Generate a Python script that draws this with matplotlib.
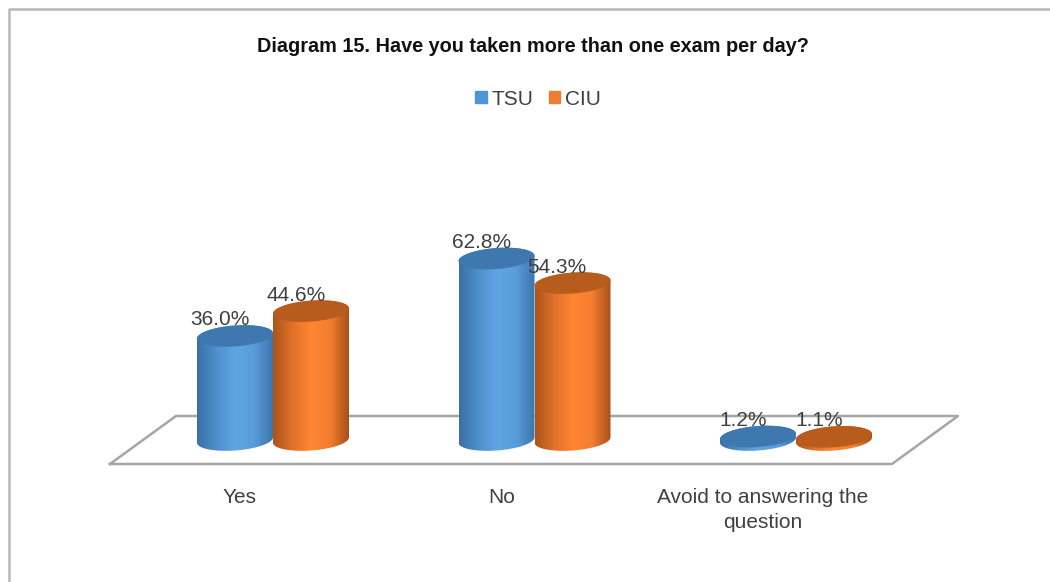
import matplotlib
matplotlib.use('Agg')
import matplotlib.pyplot as plt
import numpy as np
from matplotlib.colors import LinearSegmentedColormap
from matplotlib.lines import Line2D
from matplotlib.patches import PathPatch, Patch
from matplotlib.path import Path

plt.rcParams['font.family'] = ['Liberation Sans', 'DejaVu Sans']

categories = ['Yes', 'No', 'Avoid to answering the\nquestion']
tsu = [36.0, 62.8, 1.2]
ciu = [44.6, 54.3, 1.1]

W, H = 1050, 582
# one category = 261.5 px, one percent = 2.89 px
x_px = 261.5
y_px = 2.89
base_px = 440
floor_px = 464
x0_px = 273

blue_cmap = LinearSegmentedColormap.from_list('b', ['#3a70a6', '#4f8fcb', '#5fa5e4', '#5a9cdb', '#3d76ae'])
orange_cmap = LinearSegmentedColormap.from_list('o', ['#a9551b', '#e0712a', '#ff8533', '#f47e2f', '#a6521a'])

bar_w = 76 / x_px
semi_y = 10.5 / y_px
tilt = 0.07 * x_px / y_px

fig = plt.figure(figsize=(W / 100, H / 100), dpi=100)
# only the top and left edges of the chart frame show in the picture
fig.add_artist(Line2D([9 / W, 9 / W, 1], [0, 1 - 9 / H, 1 - 9 / H], transform=fig.transFigure,
                      color='#b8b8b8', linewidth=1.8))
ax = fig.add_axes([0, (H - floor_px) / H, 1, floor_px / H])
xlim = (-x0_px / x_px, (W - x0_px) / x_px)
ylim = (-(floor_px - base_px) / y_px, base_px / y_px)


def ellipse(xc, v):
    t = np.linspace(0, 2 * np.pi, 120)
    xs = xc + bar_w / 2 * np.cos(t)
    ys = v + semi_y * np.sin(t) + tilt * (xs - xc)
    return xs, ys


def cylinder(xc, v, cmap, top_color, z):
    t = np.linspace(0, np.pi, 60)
    xs = xc + bar_w / 2 * np.cos(t)
    top = v + semi_y * np.sin(t) + tilt * (xs - xc)
    t2 = np.linspace(np.pi, 2 * np.pi, 60)
    xb = xc + bar_w / 2 * np.cos(t2)
    bot = semi_y * np.sin(t2) + tilt * (xb - xc)
    verts = np.vstack([np.column_stack([xs, top]), np.column_stack([xb, bot]), [[xs[0], top[0]]]])
    body = PathPatch(Path(verts), facecolor='none', edgecolor='none', zorder=z)
    ax.add_patch(body)
    grad = np.linspace(0, 1, 200).reshape(1, -1)
    im = ax.imshow(grad, cmap=cmap, aspect='auto', zorder=z,
                   extent=(xc - bar_w / 2, xc + bar_w / 2, -20, v + 20))
    im.set_clip_path(body)
    ex, ey = ellipse(xc, v)
    ax.fill(ex, ey, color=top_color, zorder=z + 0.1, linewidth=0)


# floor
fx = (np.array([110, 176, 958, 892, 110]) - x0_px) / x_px
fy = (base_px - np.array([464, 416, 416, 464, 464])) / y_px
ax.plot(fx, fy, color='#a6a6a6', linewidth=1.8, zorder=1, clip_on=False)

for i in range(len(categories)):
    xb = i - bar_w / 2
    xo = i + bar_w / 2
    cylinder(xb, tsu[i], blue_cmap, '#3f78ae', 2)
    cylinder(xo, ciu[i], orange_cmap, '#b85c1e', 3)
    for xc, v in ((xb, tsu[i]), (xo, ciu[i])):
        ax.annotate('%.1f%%' % v, (xc, v), xytext=(-11, 11.5), textcoords='offset points',
                    ha='center', va='center', fontsize=15, color='#404040', zorder=5)

ax.set_xlim(xlim)
ax.set_ylim(ylim)
# category labels sit left of the bar pairs in the original
ax.set_xticks([i - 33 / x_px for i in range(len(categories))])
ax.set_xticklabels(categories, fontsize=15, color='#404040', linespacing=1.45)
ax.set_yticks([])
ax.tick_params(axis='x', length=0, pad=17)
for s in ax.spines.values():
    s.set_visible(False)
ax.patch.set_visible(False)

fig.text(533 / W, 1 - 46 / H, 'Diagram 15. Have you taken more than one exam per day?',
         ha='center', va='center', fontsize=14.3, fontweight='bold', color='#111111')
fig.legend(handles=[Patch(color='#4f94d6', label='TSU'), Patch(color='#ed7d31', label='CIU')],
           loc='center', bbox_to_anchor=(538 / W, 1 - 99 / H), ncol=2, frameon=False, fontsize=15,
           handlelength=0.55, handleheight=0.55, handletextpad=0.2, columnspacing=0.77,
           labelcolor='#404040')

fig.savefig('out.png', dpi=100)
